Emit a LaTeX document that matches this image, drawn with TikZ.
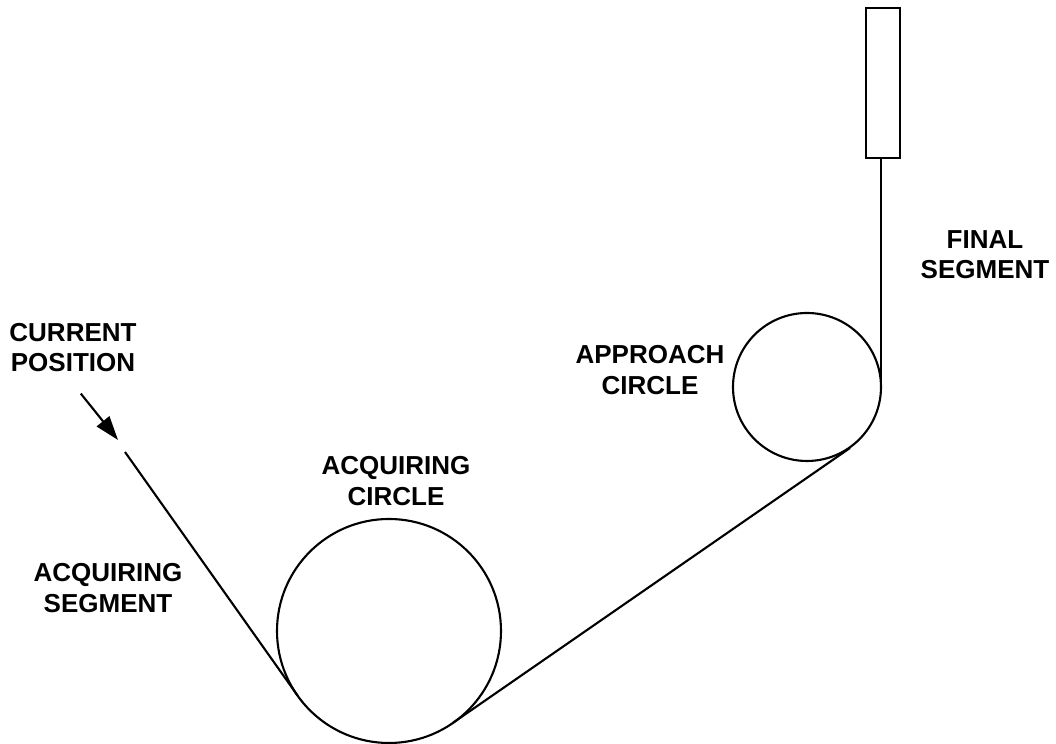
\documentclass[tikz,border=0pt]{standalone}
\usepackage{fontspec}
\setmainfont{Liberation Sans}
\usetikzlibrary{arrows.meta}
\begin{document}
\begin{tikzpicture}[
    x=1cm,
    y=1cm,
    path/.style={line width=1.5pt},
    pointer/.style={-{Triangle[length=0.6cm,width=0.4cm]},line width=1.5pt},
    biglabel/.style={font=\fontsize{18.5}{21.5}\selectfont\bfseries,align=center}
  ]
    \useasboundingbox (0,0) rectangle (26.40,18.60);

    % the two circles
    \coordinate (acqcenter) at (9.725,2.825);
    \coordinate (appcenter) at (20.175,8.925);
    \draw[path] (acqcenter) circle (2.80);
    \draw[path] (appcenter) circle (1.85);

    % runway box and final segment
    \draw[line width=1.7pt] (21.65,14.65) rectangle (22.50,18.40);
    \coordinate (finalbot) at (22.025,8.925);
    \coordinate (finaltop) at (22.025,14.65);
    \draw[path] (finalbot) -- (finaltop);

    % segment between the circles
    \coordinate (acqexit) at (11.325,0.53);
    \coordinate (appentry) at (21.25,7.40);
    \draw[path] (acqexit) -- (appentry);

    % acquiring segment
    \coordinate (startpt) at (3.125,7.30);
    \coordinate (acqentry) at (7.44,1.21);
    \draw[path] (startpt) -- (acqentry);

    % current position arrow
    \coordinate (arrowtail) at (2.02,8.76);
    \coordinate (arrowtip) at (2.95,7.60);
    \draw[pointer] (arrowtail) -- (arrowtip);

    \node[biglabel] (curpos) at (1.825,9.91) {CURRENT\\POSITION};
    \node[biglabel] (acqcirc) at (9.90,6.575) {ACQUIRING\\CIRCLE};
    \node[biglabel] (appcirc) at (16.25,9.35) {APPROACH\\CIRCLE};
    \node[biglabel] (finalseg) at (24.625,12.225) {FINAL\\SEGMENT};
    \node[biglabel] (acqseg) at (2.70,3.90) {ACQUIRING\\SEGMENT};
  \end{tikzpicture}
\end{document}
